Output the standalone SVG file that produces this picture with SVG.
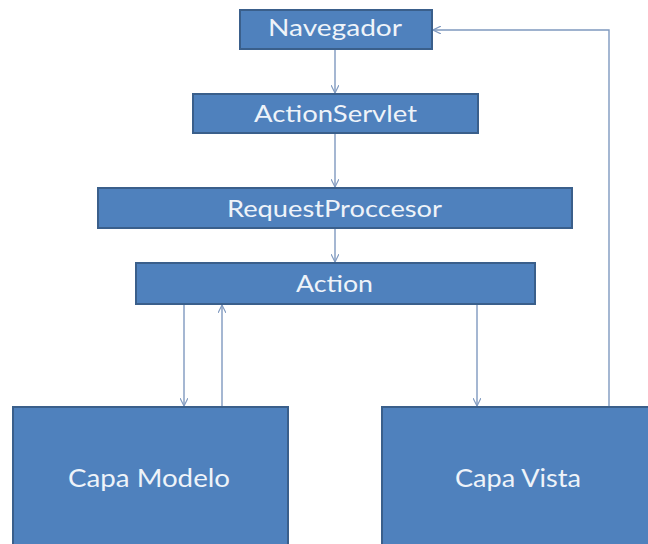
<svg xmlns="http://www.w3.org/2000/svg" width="648" height="544" viewBox="0 0 648 544">
  <style>
    .box { fill: #4F81BD; stroke: #3A5F8B; stroke-width: 2; }
    .lbl { font-family: Lato, "Open Sans", "Liberation Sans", sans-serif; fill: #EEF3F9; text-anchor: middle; }
    .conn { fill: none; stroke: #7F99BF; stroke-width: 1.4; }
  </style>
  <defs>
    <marker id="arrow" viewBox="0 0 10 10" refX="10" refY="5" markerWidth="8" markerHeight="8" markerUnits="userSpaceOnUse" orient="auto">
      <path d="M0,0 L10,5 L0,10" fill="none" stroke="#7F99BF" stroke-width="1.4"/>
    </marker>
  </defs>
  <rect width="648" height="544" fill="#FFFFFF"/>

  <g id="connectors">
    <line class="conn" x1="335" y1="49" x2="335" y2="93" marker-end="url(#arrow)"/>
    <line class="conn" x1="335" y1="133" x2="335" y2="187" marker-end="url(#arrow)"/>
    <line class="conn" x1="335" y1="228" x2="335" y2="262" marker-end="url(#arrow)"/>
    <line class="conn" x1="184" y1="304" x2="184" y2="406" marker-end="url(#arrow)"/>
    <line class="conn" x1="222" y1="407" x2="222" y2="305" marker-end="url(#arrow)"/>
    <line class="conn" x1="477" y1="304" x2="477" y2="406" marker-end="url(#arrow)"/>
    <polyline class="conn" points="609,407 609,30 433,30" marker-end="url(#arrow)"/>
  </g>

  <g id="navegador">
    <rect class="box" x="240" y="10" width="192" height="39"/>
    <text class="lbl" x="335" y="36" font-size="23" textLength="134" lengthAdjust="spacingAndGlyphs">Navegador</text>
  </g>
  <g id="actionservlet">
    <rect class="box" x="193" y="94" width="285" height="39"/>
    <text class="lbl" x="335.5" y="122" font-size="23" textLength="163" lengthAdjust="spacingAndGlyphs">ActionServlet</text>
  </g>
  <g id="requestproccesor">
    <rect class="box" x="98" y="188" width="474" height="40"/>
    <text class="lbl" x="334.5" y="217" font-size="23" textLength="215" lengthAdjust="spacingAndGlyphs">RequestProccesor</text>
  </g>
  <g id="action">
    <rect class="box" x="136" y="263" width="399" height="41"/>
    <text class="lbl" x="334.5" y="292" font-size="23" textLength="77" lengthAdjust="spacingAndGlyphs">Action</text>
  </g>
  <g id="capa-modelo">
    <rect class="box" x="13" y="407" width="275" height="150"/>
    <text class="lbl" x="149" y="487" font-size="25" textLength="162" lengthAdjust="spacingAndGlyphs">Capa Modelo</text>
  </g>
  <g id="capa-vista">
    <rect class="box" x="382" y="407" width="280" height="150"/>
    <text class="lbl" x="518" y="487" font-size="25" textLength="126" lengthAdjust="spacingAndGlyphs">Capa Vista</text>
  </g>
</svg>
